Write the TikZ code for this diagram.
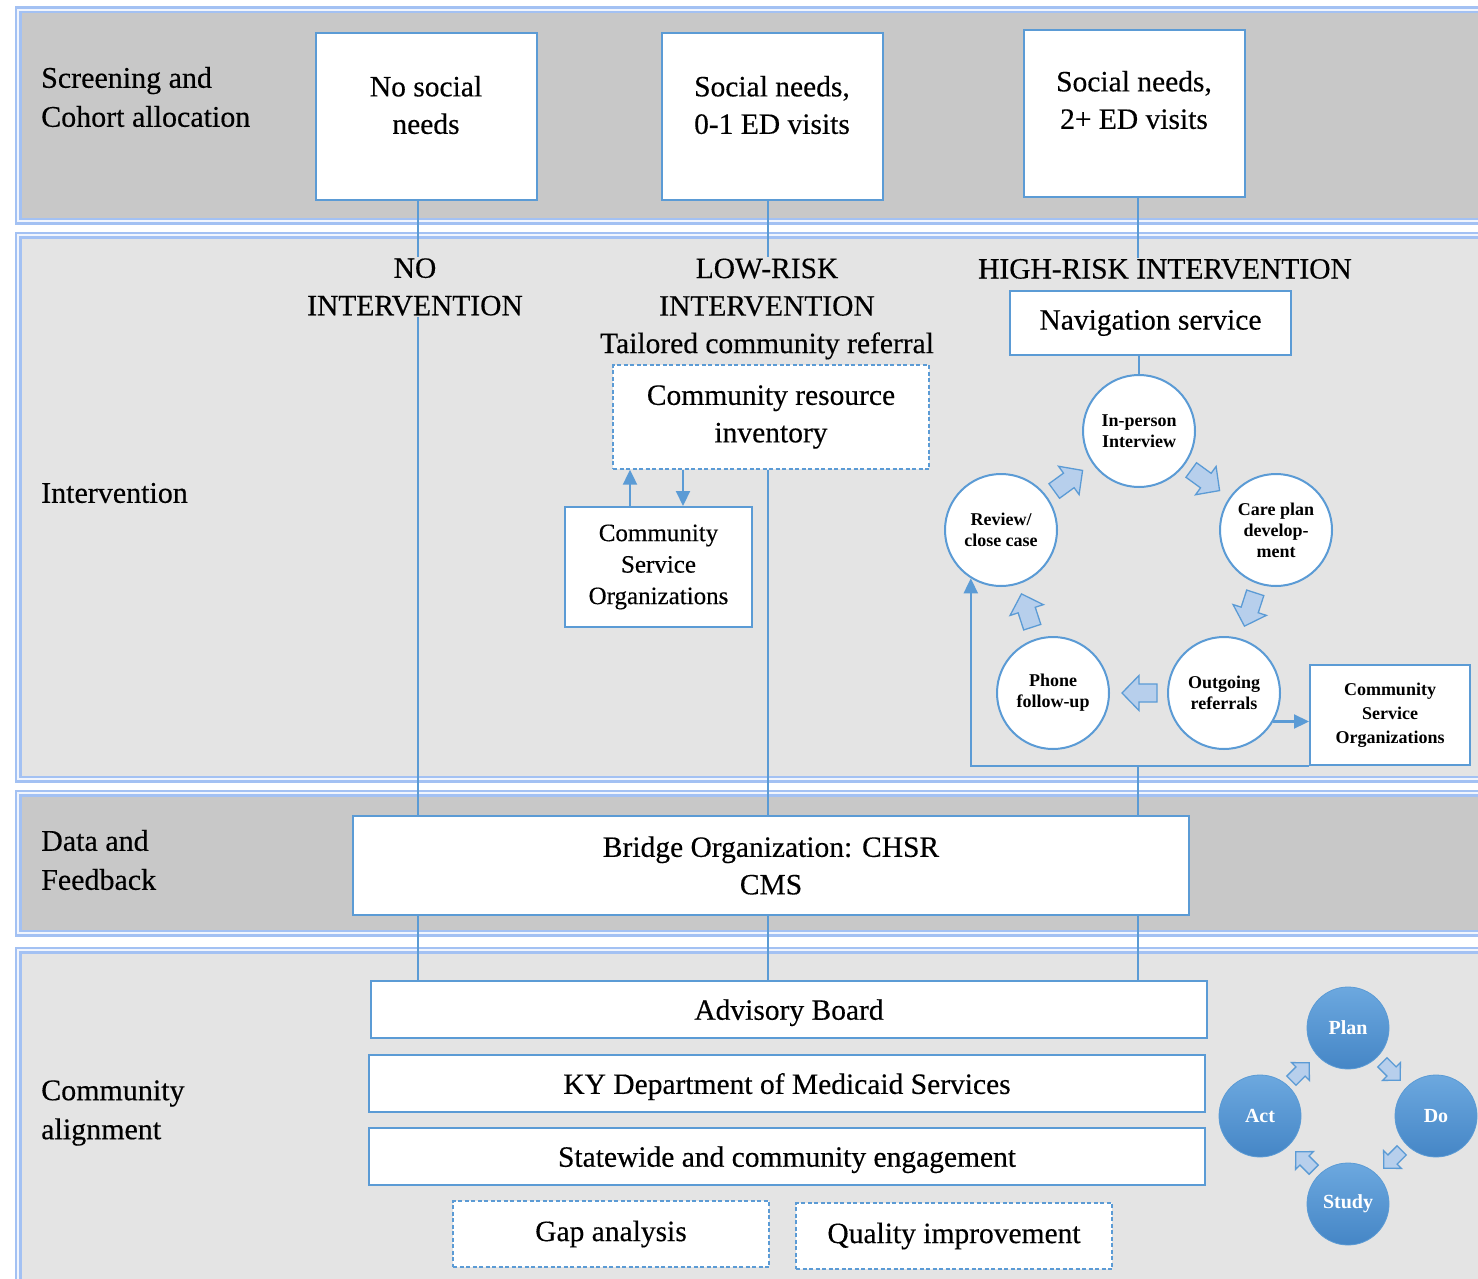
\documentclass[tikz,border=0pt]{standalone}
\usepackage{fontspec}
\setmainfont{Liberation Serif}[UprightFeatures={FakeBold=0.35}]
\usetikzlibrary{arrows.meta,calc}
\definecolor{bandD}{HTML}{C8C8C8}
\definecolor{bandL}{HTML}{E4E4E4}
\definecolor{bl}{HTML}{5B9BD5}
\definecolor{glow}{HTML}{A3C1F3}
\definecolor{afill}{HTML}{B7CFEC}
\definecolor{pdtop}{HTML}{6CA8DF}
\definecolor{pdbot}{HTML}{4586C6}
\newcommand\fMain{\fontsize{29.5}{37.5}\selectfont}
\newcommand\fLbl{\fontsize{30}{39}\selectfont}
\newcommand\fCso{\fontsize{25}{31.5}\selectfont}
\newcommand\fCirc{\fontsize{18}{21}\selectfont\bfseries}
\newcommand\fCsoB{\fontsize{18}{24}\selectfont\bfseries}
\newcommand\fPd{\fontsize{20}{22}\selectfont\bfseries}
\tikzset{
  box/.style={draw=bl, line width=2, fill=white, inner sep=0, align=center, font=\fMain},
  dbox/.style={box, line width=1.4, dash pattern=on 4pt off 2.5pt},
  txt/.style={align=center, font=\fMain, inner sep=1},
  lbl/.style={anchor=west, align=left, font=\fLbl, inner sep=0},
  conn/.style={draw=bl, line width=2.2},
  arr/.style={conn, -{Triangle[length=15pt,width=14pt]}},
  circ/.style={circle, draw=bl, line width=2, fill=white, minimum size=112, inner sep=0, align=center, font=\fCirc},
  pdsa/.style={circle, draw=bl, line width=0.8, top color=pdtop, bottom color=pdbot, minimum size=82, inner sep=0, text=white, font=\fPd},
  bandglow/.style={draw=glow, line width=7},
  bandcore/.style={draw=white, line width=1.8, opacity=0.85},
  barrow/.pic={\draw[draw=bl, fill=afill, line width=1.3, line join=miter] (-17,-9) -- (1,-9) -- (1,-17.5) -- (18,0) -- (1,17.5) -- (1,9) -- (-17,9) -- cycle;},
}
\begin{document}
\begin{tikzpicture}[x=1pt,y=-1pt]
\useasboundingbox (0,0) rectangle (1478,1279);
\clip (0,0) rectangle (1478,1279);
\fill[white] (0,0) rectangle (1478,1279);
% bands
\fill[bandD] (18,10) rectangle (1500,221);
\fill[bandL] (18,235) rectangle (1500,779);
\fill[bandD] (18,793) rectangle (1500,933);
\fill[bandL] (18,950) rectangle (1500,1300);
\foreach \a/\b in {10/221, 235/779, 793/933, 950/1300}{
  \draw[bandglow] (18,\a) rectangle (1500,\b);
  \draw[bandcore] (18,\a) rectangle (1500,\b);
}
% left labels
\node[lbl] (lab1) at (41,97) {Screening and\\Cohort allocation};
\node[lbl] (lab2) at (41,493) {Intervention};
\node[lbl] (lab3) at (41,860) {Data and\\Feedback};
\node[lbl] (lab4) at (41,1113) {Community\\alignment};
% column coordinates
\coordinate (c1) at (418,0);
\coordinate (c2) at (768,0);
\coordinate (c3) at (1138,0);
% top boxes
\node[box, minimum width=221, minimum height=167] (b1) at (426.5,116.5) {};
\node[box, minimum width=221, minimum height=167] (b2) at (772.5,116.5) {};
\node[box, minimum width=221, minimum height=167] (b3) at (1134.5,113.5) {};
\node[txt] (b1t) at (426,105) {No social\\needs};
\node[txt] (b2t) at (772,105) {Social needs,\\0-1 ED visits};
\node[txt] (b3t) at (1134,100) {Social needs,\\2+ ED visits};
% intervention headings
\node[txt] (noint) at (415,287) {NO\\INTERVENTION};
\node[txt] (lowint) at (767,309) {LOW-RISK\\INTERVENTION\\Tailored community referral};
\node[txt] (highint) at (1165,269) {HIGH-RISK INTERVENTION};
% low-risk boxes
\node[dbox, minimum width=316, minimum height=104] (cri) at (771,417) {Community resource\\inventory};
\node[box, font=\fCso, minimum width=187, minimum height=120] (cso1) at (658.5,567) {Community\\Service\\Organizations};
% high-risk
\node[box, minimum width=281, minimum height=64] (nav) at (1150.5,323) {Navigation service};
\node[circ] (inp) at (1139,431) {In-person\\Interview};
\node[circ] (care) at (1276,530) {Care plan\\develop-\\ment};
\node[circ] (outg) at (1224,693) {Outgoing\\referrals};
\node[circ] (phone) at (1053,693) {Phone\\follow-up};
\node[circ] (rev) at (1001,530) {Review/\\close case};
\node[box, font=\fCsoB, minimum width=160, minimum height=100] (cso2) at (1390,715) {Community\\Service\\Organizations};
\coordinate (loopjoin) at (1138,767);
% data & feedback
\node[box, minimum width=836, minimum height=99] (bridge) at (771,865.5) {Bridge Organization: CHSR\\CMS};
% community alignment
\node[box, text depth=0pt, minimum width=836, minimum height=57] (adv) at (789,1009.5) {Advisory Board};
\node[box, text depth=0pt, minimum width=836, minimum height=57] (ky) at (787,1083.5) {KY Department of Medicaid Services};
\node[box, text depth=0pt, minimum width=836, minimum height=57] (sw) at (787,1156.5) {Statewide and community engagement};
\node[dbox, minimum width=316, minimum height=66] (gap) at (611,1234) {Gap analysis};
\node[dbox, minimum width=316, minimum height=66] (qi) at (954,1236) {Quality improvement};
% PDSA
\node[pdsa] (plan) at (1348,1028) {Plan};
\node[pdsa] (do) at (1436,1116) {Do};
\node[pdsa] (study) at (1348,1204) {Study};
\node[pdsa] (act) at (1260,1116) {Act};
% connectors
\draw[conn] (b1.south -| c1) -- (noint.north -| c1);
\draw[conn] (noint.south -| c1) -- (bridge.north -| c1);
\draw[conn] (b2.south -| c2) -- (lowint.north -| c2);
\draw[conn] (cri.south -| c2) -- (bridge.north -| c2);
\draw[conn] (b3.south -| c3) -- (highint.north -| c3);
\draw[conn] (nav.south -| inp.north) -- (inp.north);
\draw[conn] (loopjoin) -- (bridge.north -| c3);
\draw[conn] (bridge.south -| c1) -- (adv.north -| c1);
\draw[conn] (bridge.south -| c2) -- (adv.north -| c2);
\draw[conn] (bridge.south -| c3) -- (adv.north -| c3);
\coordinate (upx) at (630,0);
\coordinate (dnx) at (683,0);
\draw[arr] (cso1.north -| upx) -- (cri.south -| upx);
\draw[arr] (cri.south -| dnx) -- (cso1.north -| dnx);
\draw[arr] (outg.-30) -- (outg.-30 -| cso2.west);
\draw[arr] (cso2.south west) -| (rev.238);
% block arrows in loop
\pic[rotate=-36] at (1205,480) {barrow};
\pic[rotate=-108] at (1250,609) {barrow};
\pic[rotate=180] at (1140,693) {barrow};
\pic[rotate=-252] at (1027,611) {barrow};
\pic[rotate=36] at (1068,481) {barrow};
% PDSA arrows
\pic[rotate=-45, scale=0.72] at (1391,1071) {barrow};
\pic[rotate=-135, scale=0.72] at (1393,1159) {barrow};
\pic[rotate=-225, scale=0.72] at (1305,1161) {barrow};
\pic[rotate=-315, scale=0.72] at (1300,1072) {barrow};
\end{tikzpicture}
\end{document}
